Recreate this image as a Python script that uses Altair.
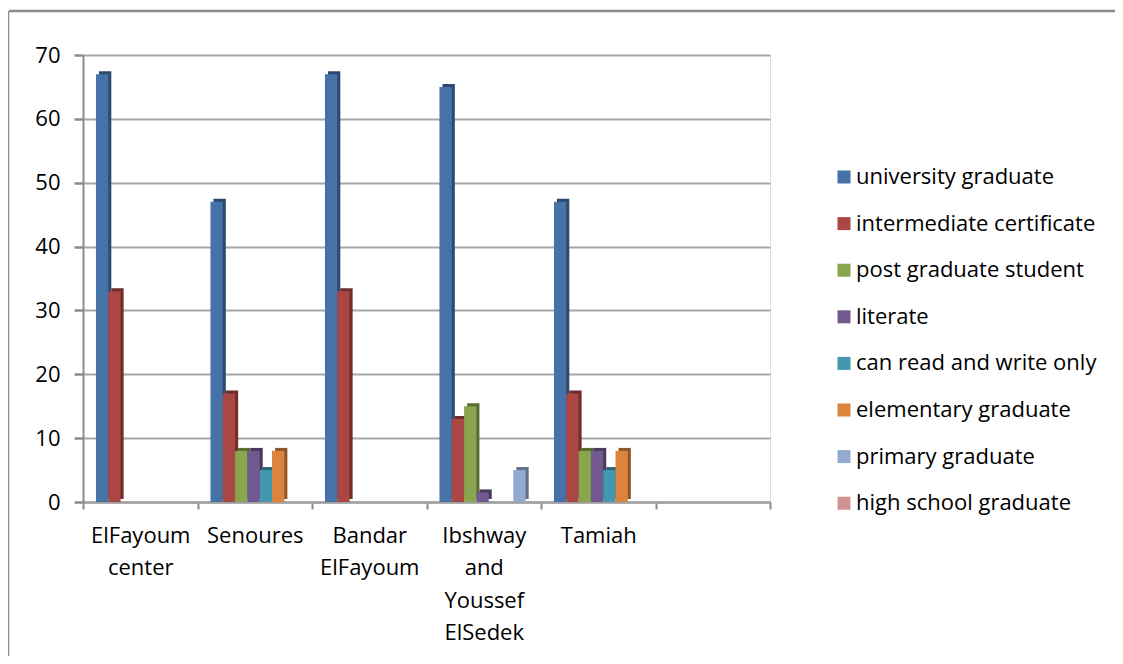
import altair as alt
import pandas as pd

categories = ["ElFayoum\ncenter", "Senoures", "Bandar\nElFayoum",
              "Ibshway\nand\nYoussef\nElSedek", "Tamiah", " "]
series = ["university graduate", "intermediate certificate", "post graduate student",
          "literate", "can read and write only", "elementary graduate",
          "primary graduate", "high school graduate"]
colors = ["#4572A7", "#AA4643", "#89A54E", "#71588F", "#4198AF", "#DB843D",
          "#93A9CF", "#D19392"]
side_colors = ["#2C4A6E", "#6F2D2B", "#5A6C33", "#4A3A5E", "#2A6373", "#915628",
               "#607088", "#8A6060"]

university = [67, 47, 67, 65, 47, 0]
intermediate = [33, 17, 33, 13, 17, 0]
post_graduate = [0, 8, 0, 15, 8, 0]
literate = [0, 8, 0, 1.5, 8, 0]
read_write = [0, 5, 0, 0, 5, 0]
elementary = [0, 8, 0, 0, 8, 0]
primary = [0, 0, 0, 5, 0, 0]
high_school = [0, 0, 0, 0, 0, 0]

all_values = [university, intermediate, post_graduate, literate, read_write,
              elementary, primary, high_school]

rows = []
for s, vals in zip(series, all_values):
    for c, v in zip(categories, vals):
        if v > 0:
            rows.append({"cat": c, "series": s, "value": v})
df = pd.DataFrame(rows)

FONT = "Open Sans"
GRAY = "#8c8c8c"
FS = 22

one = pd.DataFrame({"a": [0]})
frame_top = alt.Chart(one).mark_rule(color=GRAY, strokeWidth=2.5, clip=False).encode(
    x=alt.value(-74), x2=alt.value(2000), y=alt.value(-44))
frame_left = alt.Chart(one).mark_rule(color=GRAY, strokeWidth=2.5, clip=False).encode(
    x=alt.value(-75), y=alt.value(-44), y2=alt.value(2000))

x_enc = alt.X("cat:N", sort=categories,
              scale=alt.Scale(domain=categories, paddingInner=0, paddingOuter=0),
              axis=alt.Axis(title=None, labelAngle=0, tickBand="extent",
                            labelExpr="split(datum.label, '\\n')",
                            labelLineHeight=32.5, labelFontSize=FS, labelPadding=16,
                            labelBaseline="top", tickSize=7, tickColor=GRAY,
                            tickWidth=2, domainColor="#a0a0a0", domainWidth=2.5,
                            labelColor="#000000", labelFont=FONT))
y_enc = alt.Y("value:Q", scale=alt.Scale(domain=[0, 70], nice=False),
              axis=alt.Axis(title=None, values=[0, 10, 20, 30, 40, 50, 60, 70],
                            labelFontSize=FS, labelPadding=14, tickSize=9,
                            tickColor=GRAY, tickWidth=2.5,
                            domainColor=GRAY, domainWidth=2,
                            gridColor="#a6a6a6", gridWidth=2,
                            labelColor="#000000", labelFont=FONT))

side = alt.Chart(df).mark_bar(yOffset=-3).encode(
    x=x_enc,
    xOffset=alt.XOffset("series:N",
                        scale=alt.Scale(domain=series, paddingOuter=0.65,
                                        paddingInner=0, align=1.0)),
    y=y_enc,
    color=alt.Color("series:N", scale=alt.Scale(domain=series, range=side_colors),
                    legend=None),
)

front = alt.Chart(df).mark_bar().encode(
    x=x_enc,
    xOffset=alt.XOffset("series:N",
                        scale=alt.Scale(domain=series, paddingOuter=0.65,
                                        paddingInner=0, align=0.81)),
    y=y_enc,
    color=alt.Color("series:N",
                    scale=alt.Scale(domain=series, range=colors),
                    legend=alt.Legend(title=None, orient="none", legendX=750,
                                      legendY=111, symbolType="square",
                                      symbolSize=169, symbolStrokeWidth=0,
                                      labelFontSize=FS, labelFont=FONT,
                                      labelColor="#000000", rowPadding=24.6,
                                      labelOffset=1, padding=0, labelLimit=400,
                                      values=series)),
)

chart = alt.layer(frame_top, frame_left, side, front).resolve_scale(
    color="independent", xOffset="independent"
).properties(
    width=687, height=447,
    autosize=alt.AutoSizeParams(type="none"),
    padding={"left": 75, "top": 47, "right": 345, "bottom": 154},
).configure_view(stroke=None).configure(background="#ffffff")

chart.save("out.html", embed_options={"renderer": "svg", "actions": False})
